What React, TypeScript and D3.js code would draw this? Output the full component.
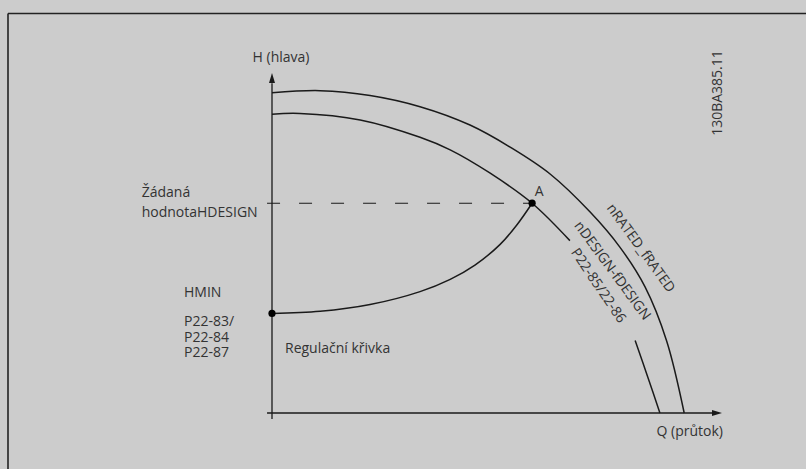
import React from "react";
import * as d3 from "d3";

// pump curves (Q and H in % of the axis length)
const ratedQ = [0, 10.7, 21.8, 32.9, 44.0, 53.3, 61.8, 70.7, 77.3, 82.9, 87.7, 91.6];
const ratedH = [94.2, 94.8, 93.4, 90.1, 84.7, 77.9, 70.3, 59.1, 48.8, 37.1, 21.2, 0];

// design curve is broken where its label sits (null = gap)
const designQ = [0, 6.2, 19.6, 32.9, 39.6, 48.4, 57.8, 66.2, null, 80.7, 83.5, 86.2];
const designH = [87.9, 88.1, 86.2, 81.1, 77.4, 70.6, 61.7, 50.7, null, 21.3, 10.6, 0];

const controlQ = [0, 10.7, 21.8, 32.9, 39.6, 45.1, 50.7, 54.4, 57.8];
const controlH = [29.3, 29.9, 31.9, 35.7, 39.3, 43.5, 49.6, 55.3, 61.7];

const pointA = { q: 57.8, h: 61.7 };
const pointHmin = { q: 0, h: 29.3 };

const hminLines = ["P22-83/", "P22-84", "P22-87"];

const W = 806;
const H = 469;
const ink = "#1a1a1a";
const textColor = "#333";
const font = "'Open Sans', sans-serif";

const zip = (qs, hs) => qs.map((q, i) => ({ q, h: hs[i] }));

export default function App() {
  const x = d3.scaleLinear().domain([0, 100]).range([272, 722]);
  const y = d3.scaleLinear().domain([0, 100]).range([413, 73]);

  const line = d3
    .line()
    .defined((d) => d.q !== null)
    .x((d) => x(d.q))
    .y((d) => y(d.h))
    .curve(d3.curveCatmullRom.alpha(0.5));

  const rated = zip(ratedQ, ratedH);
  const design = zip(designQ, designH);
  const control = zip(controlQ, controlH);

  const txt = { fontFamily: font, fontSize: 14, fill: textColor };

  return (
    <svg
      width={W}
      height={H}
      style={{ position: "fixed", left: 0, top: 0, display: "block" }}
    >
      <rect width={W} height={H} fill="#cccccc" />
      {/* frame (only top and left edges visible) */}
      <line x1={8} x2={W} y1={13.5} y2={13.5} stroke="#222" strokeWidth={1.6} />
      <line x1={8} x2={8} y1={13.5} y2={H} stroke="#222" strokeWidth={1.6} />

      {/* axes */}
      <line x1={x(0)} x2={x(0)} y1={y(-1.8)} y2={y(97)} stroke={ink} strokeWidth={1.3} />
      <polygon
        points={`${x(0)},${y(100)} ${x(0) - 3},${y(100) + 10} ${x(0) + 3},${y(100) + 10}`}
        fill={ink}
      />
      <line x1={x(-1.1)} x2={x(98)} y1={y(0)} y2={y(0)} stroke={ink} strokeWidth={1.3} />
      <polygon
        points={`${x(100)},${y(0)} ${x(100) - 10},${y(0) - 3} ${x(100) - 10},${y(0) + 3}`}
        fill={ink}
      />

      {/* design setpoint */}
      <line
        x1={x(-1.1)}
        x2={x(pointA.q)}
        y1={y(pointA.h)}
        y2={y(pointA.h)}
        stroke={ink}
        strokeWidth={1.1}
        strokeDasharray="13 19"
      />

      <path d={line(rated)} fill="none" stroke={ink} strokeWidth={1.5} />
      <path d={line(design)} fill="none" stroke={ink} strokeWidth={1.5} />
      <path d={line(control)} fill="none" stroke={ink} strokeWidth={1.5} />

      <circle cx={x(pointA.q)} cy={y(pointA.h)} r={3.6} fill="#000" />
      <circle cx={x(pointHmin.q)} cy={y(pointHmin.h)} r={3.6} fill="#000" />

      {/* labels */}
      <text {...txt} x={281} y={56.7} textAnchor="middle" dominantBaseline="central">
        H (hlava)
      </text>
      <text {...txt} x={723} y={430} textAnchor="end" dominantBaseline="central">
        Q (průtok)
      </text>
      <text {...txt} x={141.7} y={191.7} dominantBaseline="central">
        Žádaná
      </text>
      <text {...txt} x={141.7} y={211} dominantBaseline="central">
        hodnotaHDESIGN
      </text>
      <text {...txt} x={184} y={291.7} dominantBaseline="central">
        HMIN
      </text>
      {hminLines.map((t, i) => (
        <text key={t} {...txt} x={184} y={320.7 + i * 15.6} dominantBaseline="central">
          {t}
        </text>
      ))}
      <text {...txt} x={285} y={347} dominantBaseline="central">
        Regulační křivka
      </text>
      <text
        {...txt}
        x={x(pointA.q) + 7}
        y={y(pointA.h) - 12.6}
        textAnchor="middle"
        dominantBaseline="central"
      >
        A
      </text>
      <text
        {...txt}
        textAnchor="middle"
        dominantBaseline="central"
        transform="translate(641.7,247.5) rotate(54)"
      >
        nRATED_fRATED
      </text>
      <text
        {...txt}
        textAnchor="middle"
        dominantBaseline="central"
        transform="translate(613.3,270) rotate(53.7)"
      >
        nDESIGN-fDESIGN
      </text>
      <text
        {...txt}
        textAnchor="middle"
        dominantBaseline="central"
        transform="translate(599.2,285) rotate(56)"
      >
        P22-85/22-86
      </text>
      <text
        {...txt}
        textAnchor="middle"
        dominantBaseline="central"
        transform="translate(716.7,93) rotate(-90)"
      >
        130BA385.11
      </text>
    </svg>
  );
}
